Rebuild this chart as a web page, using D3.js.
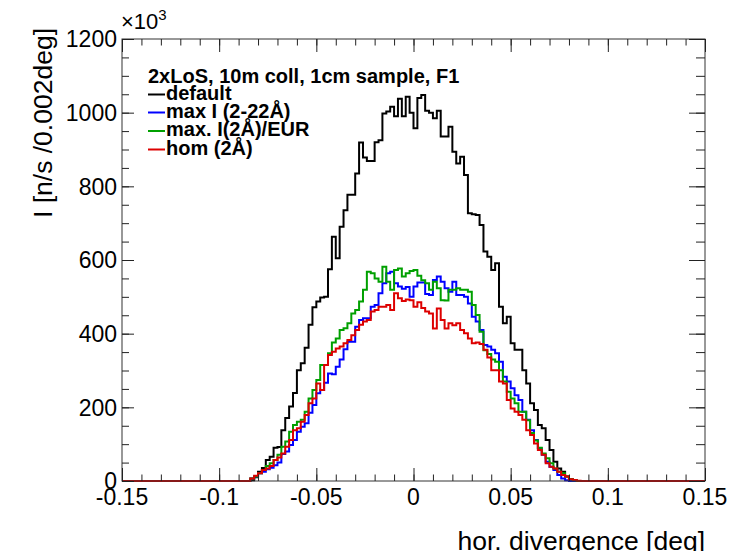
<!DOCTYPE html>
<html>
<head>
<meta charset="utf-8">
<script src="https://cdn.jsdelivr.net/npm/d3@7"></script>
<style>
  body { margin: 0; background: #fff; }
  svg text { font-family: "Liberation Sans", Arial, sans-serif; }
</style>
</head>
<body>
<svg id="chart" width="739" height="551"></svg>
<script>
// histogram: 150 bins of 0.002 deg from -0.15 to 0.15, values in units of 10^3
var xMin = -0.15, binW = 0.002, nBins = 150
var firstBin = 33   // bins before this are 0

var seriesNames = ["default", "max I (2-22Å)", "max. I(2Å)/EUR", "hom (2Å)"]
var seriesColors = ["#000000", "#0000ff", "#00a000", "#dd0000"]

var defaultVals = [2,10,25,35,57,66,90,92,138,171,202,239,301,320,362,424,472,487,498,500,
  575,663,605,690,735,777,777,835,919,878,869,869,920,925,998,1003,1016,990,1038,990,
  1043,1000,958,1040,1048,1005,1000,985,1005,935,935,962,894,862,880,831,727,724,722,695,
  623,609,573,591,473,428,446,374,356,356,301,265,211,193,152,143,111,84,52,34,
  25,12,5,2]
var maxIVals = [7,12,21,25,32,36,43,50,73,80,98,111,134,147,157,185,206,238,247,267,
  292,290,310,330,358,378,378,419,437,442,442,473,478,510,537,564,568,537,528,522,
  527,500,528,539,539,508,505,546,555,541,523,514,541,505,505,500,482,446,433,410,
  369,365,356,347,324,283,270,252,233,220,188,166,138,111,89,71,52,39,30,16,
  7,2]
var eurVals = [7,12,21,30,41,48,57,71,93,107,134,152,161,166,188,224,247,274,315,315,
  347,376,387,410,415,428,455,464,487,519,568,564,550,541,582,541,519,573,577,555,
  564,570,573,557,545,537,519,541,523,491,490,519,519,523,519,519,514,478,451,405,
  355,345,330,324,301,270,242,224,211,188,188,165,130,110,90,75,62,48,34,25,
  21,12,5,2]
var homVals = [7,14,21,30,34,41,57,64,75,93,111,138,143,161,179,211,224,265,247,315,
  342,351,360,365,374,383,396,410,424,433,437,460,464,473,473,478,464,510,496,489,
  493,491,473,485,470,460,455,414,468,437,414,428,423,428,410,401,387,374,376,372,
  356,335,301,301,270,265,220,197,188,179,166,138,125,102,84,71,48,39,34,25,
  16,12,5,3,1]

var xTickVals = [-0.15, -0.1, -0.05, 0, 0.05, 0.1, 0.15]
var xTickLabels = ["-0.15", "-0.1", "-0.05", "0", "0.05", "0.1", "0.15"]
var yTickVals = [0, 200, 400, 600, 800, 1000, 1200]

function fullBins(vals) {
  var out = []
  for (var i = 0; i < nBins; i++) {
    var k = i - firstBin
    out.push(k >= 0 && k < vals.length ? vals[k] : 0)
  }
  return out
}
var series = [defaultVals, maxIVals, eurVals, homVals].map(fullBins)

var plotL = 122, plotR = 705, plotT = 39, plotB = 481
var x = d3.scaleLinear().domain([-0.15, 0.15]).range([plotL, plotR])
var y = d3.scaleLinear().domain([0, 1200]).range([plotB, plotT])

var svg = d3.select("#chart")

svg.append("defs").append("clipPath").attr("id", "clip")
  .append("rect").attr("x", plotL).attr("y", plotT - 2)
  .attr("width", plotR - plotL).attr("height", plotB - plotT + 4)

// histograms
var line = d3.line().x(d => x(d[0])).y(d => y(d[1])).curve(d3.curveStepAfter)
series.forEach(function (vals, s) {
  var pts = vals.map((v, i) => [xMin + i * binW, v])
  pts.push([xMin + nBins * binW, vals[nBins - 1]])
  svg.append("path")
    .attr("clip-path", "url(#clip)")
    .attr("d", line(pts))
    .attr("fill", "none")
    .attr("stroke", seriesColors[s])
    .attr("stroke-width", 2)
})

// frame
svg.append("rect").attr("x", plotL).attr("y", plotT)
  .attr("width", plotR - plotL).attr("height", plotB - plotT)
  .attr("fill", "none").attr("stroke", "#333").attr("stroke-width", 1)

// axes (ROOT style, ticks inside, on all sides)
var minorX = d3.range(0, 31).map(k => -0.15 + k * 0.01)
var minorY = d3.range(0, 25).map(k => k * 50)
svg.append("g").attr("transform", "translate(0," + plotB + ")")
  .call(d3.axisTop(x).tickValues(minorX).tickSize(6.5).tickFormat(""))
svg.append("g").attr("transform", "translate(0," + plotB + ")")
  .call(d3.axisTop(x).tickValues(xTickVals).tickSize(13).tickFormat(""))
svg.append("g").attr("transform", "translate(0," + plotT + ")")
  .call(d3.axisBottom(x).tickValues(minorX).tickSize(6.5).tickFormat(""))
svg.append("g").attr("transform", "translate(0," + plotT + ")")
  .call(d3.axisBottom(x).tickValues(xTickVals).tickSize(13).tickFormat(""))

svg.append("g").attr("transform", "translate(" + plotL + ",0)")
  .call(d3.axisRight(y).tickValues(minorY).tickSize(7).tickFormat(""))
svg.append("g").attr("transform", "translate(" + plotL + ",0)")
  .call(d3.axisRight(y).tickValues(yTickVals).tickSize(12).tickFormat(""))
svg.append("g").attr("transform", "translate(" + plotR + ",0)")
  .call(d3.axisLeft(y).tickValues(minorY).tickSize(9).tickFormat(""))
svg.append("g").attr("transform", "translate(" + plotR + ",0)")
  .call(d3.axisLeft(y).tickValues(yTickVals).tickSize(16).tickFormat(""))

svg.selectAll(".domain").remove()
svg.selectAll(".tick line").attr("stroke", "#222").attr("stroke-width", 1)

// tick labels
svg.append("g").selectAll("text").data(xTickVals).enter().append("text")
  .attr("x", d => x(d)).attr("y", 505)
  .attr("text-anchor", "middle").style("font-size", "23px")
  .text((d, i) => xTickLabels[i])

svg.append("g").selectAll("text").data(yTickVals).enter().append("text")
  .attr("x", 117).attr("y", d => y(d)).attr("dy", "0.36em")
  .attr("text-anchor", "end").style("font-size", "23px")
  .text(d => d)

// x10^3
var mult = svg.append("text").attr("x", 121).attr("y", 29).style("font-size", "22px")
mult.append("tspan").text("×10")
mult.append("tspan").attr("dy", -9).style("font-size", "15px").text("3")

// axis titles
svg.append("text")
  .attr("transform", "translate(52,28) rotate(-90)")
  .attr("text-anchor", "end").style("font-size", "26.5px")
  .text("I [n/s /0.002deg]")

svg.append("text")
  .attr("x", 705).attr("y", 550)
  .attr("text-anchor", "end").style("font-size", "26.5px")
  .text("hor. divergence [deg]")

// legend
var legX = 148
var legG = svg.append("g").style("font-weight", "bold").style("font-size", "20px")
legG.append("text").attr("x", legX).attr("y", 82.5).text("2xLoS, 10m coll, 1cm sample, F1")
var legBase = [99.5, 117.5, 136, 154.5]
seriesNames.forEach(function (name, s) {
  legG.append("line")
    .attr("x1", legX).attr("x2", legX + 17)
    .attr("y1", legBase[s] - 5).attr("y2", legBase[s] - 5)
    .attr("stroke", seriesColors[s]).attr("stroke-width", 2)
  legG.append("text").attr("x", legX + 18).attr("y", legBase[s]).text(name)
})
</script>
</body>
</html>
